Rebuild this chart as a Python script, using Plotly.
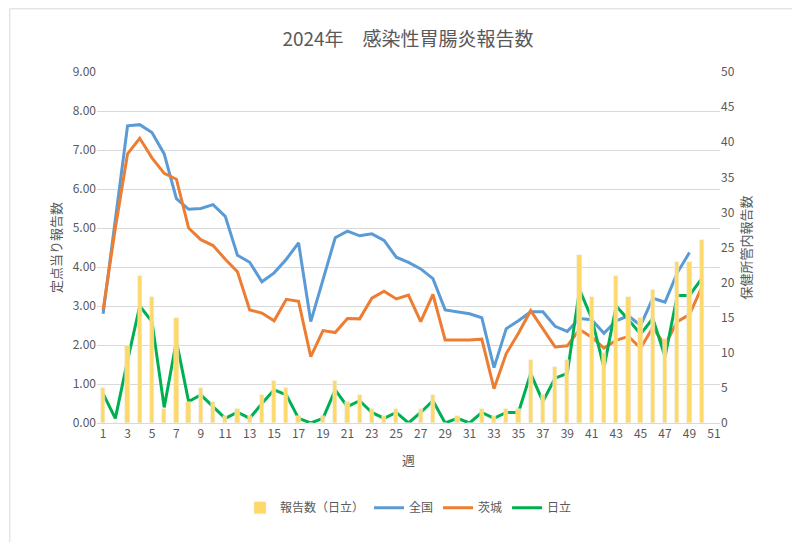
import plotly.graph_objects as go

weeks = list(range(1, 52))

zenkoku = [2.8, 5.2, 7.62, 7.65, 7.45, 6.9, 5.75, 5.48, 5.5, 5.6, 5.3, 4.3, 4.12, 3.62, 3.85,
           4.2, 4.62, 2.6, 3.7, 4.75, 4.92, 4.8, 4.85, 4.68, 4.25, 4.12, 3.95, 3.7, 2.9, 2.85,
           2.8, 2.7, 1.42, 2.42, 2.62, 2.85, 2.85, 2.48, 2.35, 2.68, 2.65, 2.3, 2.62, 2.75, 2.5,
           3.2, 3.1, 3.85, 4.37]
ibaraki = [2.9, 5.0, 6.9, 7.3, 6.8, 6.4, 6.25, 5.0, 4.7, 4.55, 4.2, 3.88, 2.9, 2.82, 2.62,
           3.17, 3.12, 1.7, 2.37, 2.32, 2.68, 2.67, 3.2, 3.38, 3.18, 3.28, 2.6, 3.3, 2.13, 2.13,
           2.13, 2.15, 0.88, 1.78, 2.3, 2.88, 2.4, 1.95, 1.98, 2.4, 2.2, 1.92, 2.12, 2.22, 1.92,
           2.45, 2.0, 2.6, 2.78, 3.48]
hitachi = [0.75, 0.12, 1.6, 3.0, 2.6, 0.4, 2.1, 0.55, 0.72, 0.42, 0.12, 0.28, 0.12, 0.5, 0.85,
           0.72, 0.12, 0.0, 0.12, 0.85, 0.42, 0.57, 0.27, 0.12, 0.27, 0.0, 0.27, 0.57, 0.0, 0.12,
           0.0, 0.27, 0.12, 0.27, 0.27, 1.27, 0.55, 1.15, 1.27, 3.42, 2.68, 1.42, 3.0, 2.65, 2.28,
           2.68, 1.7, 3.27, 3.27, 3.7]
hitachi_count = [5, 0, 11, 21, 18, 2, 15, 3, 5, 3, 1, 2, 1, 4, 6, 5, 1, 0, 1, 6, 3, 4, 2, 1, 2,
                 0, 2, 4, 0, 1, 0, 2, 1, 2, 2, 9, 4, 8, 9, 24, 18, 10, 21, 18, 15, 19, 12, 23, 23, 26]

font = "Noto Sans CJK JP"
grey = "#595959"

fig = go.Figure()
fig.add_trace(go.Bar(x=weeks[:len(hitachi_count)], y=hitachi_count, name="報告数（日立）",
                     marker_color="#FFD966", width=0.35, yaxis="y2"))
fig.add_trace(go.Scatter(x=weeks[:len(zenkoku)], y=zenkoku, name="全国", mode="lines",
                         line=dict(color="#5B9BD5", width=3)))
fig.add_trace(go.Scatter(x=weeks[:len(ibaraki)], y=ibaraki, name="茨城", mode="lines",
                         line=dict(color="#ED7D31", width=3)))
fig.add_trace(go.Scatter(x=weeks[:len(hitachi)], y=hitachi, name="日立", mode="lines",
                         line=dict(color="#00B050", width=3)))

fig.update_layout(
    width=800, height=542,
    margin=dict(l=89, r=88, t=64, b=127),
    paper_bgcolor="white", plot_bgcolor="white",
    font=dict(family=font, color=grey, size=12),
    title=dict(text="2024年　感染性胃腸炎報告数", x=0.5, y=0.955, font=dict(size=19, color=grey)),
    xaxis=dict(range=[0.5, 51.5], tickmode="array", tickvals=weeks[::2], showgrid=False,
               showline=True, linecolor="#d9d9d9", ticks="",
               title=dict(text="週", font=dict(size=13))),
    yaxis=dict(range=[0, 9], dtick=1, tickformat=".2f", gridcolor="#d9d9d9", zeroline=False,
               title=dict(text="定点当り報告数", font=dict(size=13), standoff=8)),
    yaxis2=dict(range=[0, 50], dtick=5, overlaying="y", side="right", showgrid=False,
                title=dict(text="保健所管内報告数", font=dict(size=13), standoff=8)),
    legend=dict(orientation="h", x=0.5, xanchor="center", y=-0.2, yanchor="top",
                font=dict(size=12)),
    bargap=0,
)
fig.add_shape(type="rect", xref="paper", yref="paper", x0=-0.14, x1=1.14, y0=-0.365, y1=1.18,
              line=dict(color="#d9d9d9", width=1))
fig.write_html("out.html")
